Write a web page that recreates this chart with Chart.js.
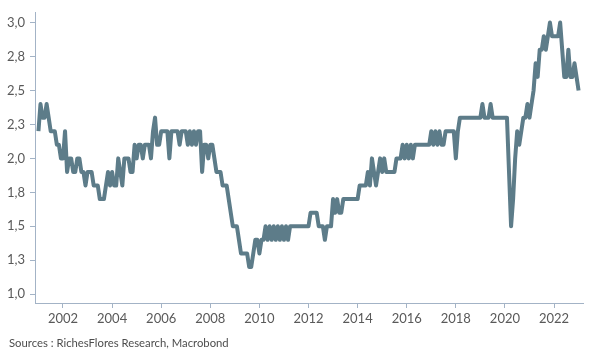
<!DOCTYPE html>
<html>
<head>
<meta charset="utf-8">
<script src="https://cdn.jsdelivr.net/npm/chart.js@4/dist/chart.umd.min.js"></script>
<style>
  html, body { margin: 0; padding: 0; background: #ffffff; }
  #wrap { position: relative; width: 600px; height: 360px; background: #ffffff; }
  #c { position: absolute; left: 0; top: 0; }
  #src { position: absolute; left: 9px; top: 336px; font-family: Lato, "Open Sans", sans-serif; font-size: 11.3px; color: #4d4d4d; white-space: nowrap; }
</style>
</head>
<body>
<div id="wrap">
  <canvas id="c" width="600" height="360"></canvas>
  <div id="src">Sources : RichesFlores Research, Macrobond</div>
</div>
<script>
// ---- data (monthly, January 2001 to January 2023) ----
const firstYear = 2001;
const values2001 = [2.2, 2.4, 2.3, 2.3, 2.4, 2.3, 2.2, 2.2, 2.2, 2.1, 2.1, 2.0];
const values2002 = [2.0, 2.2, 1.9, 2.0, 2.0, 1.9, 1.9, 2.0, 2.0, 1.9, 1.9, 1.8];
const values2003 = [1.9, 1.9, 1.9, 1.8, 1.8, 1.8, 1.7, 1.7, 1.7, 1.8, 1.9, 1.8];
const values2004 = [1.9, 1.8, 1.8, 2.0, 1.9, 1.8, 2.0, 2.0, 2.0, 1.9, 1.9, 2.1];
const values2005 = [2.0, 2.1, 2.1, 2.0, 2.1, 2.1, 2.1, 2.0, 2.2, 2.3, 2.1, 2.1];
const values2006 = [2.2, 2.2, 2.2, 2.2, 2.0, 2.2, 2.2, 2.2, 2.2, 2.1, 2.2, 2.2];
const values2007 = [2.2, 2.1, 2.2, 2.1, 2.2, 2.1, 2.2, 2.2, 1.9, 2.1, 2.1, 2.0];
const values2008 = [2.1, 2.1, 2.0, 1.9, 1.9, 1.9, 1.8, 1.8, 1.8, 1.7, 1.6, 1.5];
const values2009 = [1.5, 1.5, 1.4, 1.3, 1.3, 1.3, 1.3, 1.2, 1.2, 1.3, 1.4, 1.4];
const values2010 = [1.3, 1.4, 1.4, 1.5, 1.4, 1.5, 1.4, 1.5, 1.4, 1.5, 1.4, 1.5];
const values2011 = [1.4, 1.5, 1.4, 1.5, 1.5, 1.5, 1.5, 1.5, 1.5, 1.5, 1.5, 1.5];
const values2012 = [1.5, 1.6, 1.6, 1.6, 1.6, 1.5, 1.5, 1.5, 1.4, 1.5, 1.5, 1.5];
const values2013 = [1.7, 1.6, 1.7, 1.6, 1.6, 1.7, 1.7, 1.7, 1.7, 1.7, 1.7, 1.7];
const values2014 = [1.7, 1.8, 1.8, 1.8, 1.8, 1.9, 1.8, 2.0, 1.9, 1.8, 1.9, 2.0];
const values2015 = [1.9, 2.0, 1.9, 1.9, 1.9, 1.9, 1.9, 2.0, 2.0, 2.0, 2.1, 2.0];
const values2016 = [2.1, 2.0, 2.1, 2.0, 2.1, 2.1, 2.1, 2.1, 2.1, 2.1, 2.1, 2.1];
const values2017 = [2.2, 2.1, 2.2, 2.1, 2.2, 2.1, 2.1, 2.2, 2.2, 2.2, 2.2, 2.2];
const values2018 = [2.0, 2.2, 2.3, 2.3, 2.3, 2.3, 2.3, 2.3, 2.3, 2.3, 2.3, 2.3];
const values2019 = [2.3, 2.4, 2.3, 2.3, 2.3, 2.4, 2.3, 2.3, 2.3, 2.3, 2.3, 2.3];
const values2020 = [2.3, 2.3, 1.9, 1.5, 1.7, 2.0, 2.2, 2.1, 2.2, 2.3, 2.3, 2.4];
const values2021 = [2.3, 2.4, 2.5, 2.7, 2.6, 2.8, 2.8, 2.9, 2.8, 2.9, 3.0, 2.9];
const values2022 = [2.9, 2.9, 2.9, 3.0, 2.8, 2.6, 2.6, 2.8, 2.6, 2.6, 2.7, 2.6];
const values2023 = [2.5];

const xTicks = [2002, 2004, 2006, 2008, 2010, 2012, 2014, 2016, 2018, 2020, 2022];
const yTicks = [1.0, 1.25, 1.5, 1.75, 2.0, 2.25, 2.5, 2.75, 3.0];

const yearly = [values2001, values2002, values2003, values2004, values2005, values2006,
  values2007, values2008, values2009, values2010, values2011, values2012, values2013,
  values2014, values2015, values2016, values2017, values2018, values2019, values2020,
  values2021, values2022, values2023];

const points = [];
yearly.forEach((arr, yi) => {
  arr.forEach((v, m) => points.push({ x: firstYear + yi + m / 12, y: v }));
});

const axisColor = '#a3b3c6';
const tickColor = '#595959';
const fontFamily = 'Lato, "Open Sans", sans-serif';

new Chart(document.getElementById('c'), {
  type: 'line',
  data: {
    datasets: [{
      data: points,
      borderColor: '#5d7c89',
      borderWidth: 4,
      pointRadius: 0,
      tension: 0,
      borderJoinStyle: 'round',
      fill: false
    }]
  },
  options: {
    responsive: false,
    animation: false,
    layout: { padding: { top: 7, right: 17, left: 0, bottom: 0 } },
    plugins: { legend: { display: false }, tooltip: { enabled: false } },
    scales: {
      x: {
        type: 'linear',
        min: 2000.86,
        max: 2023.18,
        afterBuildTicks: s => { s.ticks = xTicks.map(v => ({ value: v })); },
        afterFit: s => { s.height = 57; },
        grid: { drawOnChartArea: false, color: axisColor, tickLength: 5 },
        border: { color: axisColor, width: 1 },
        ticks: {
          color: tickColor, font: { family: fontFamily, size: 13 },
          padding: 3, maxRotation: 0, autoSkip: false,
          callback: v => String(v)
        }
      },
      y: {
        type: 'linear',
        min: 0.935,
        max: 3.072,
        afterBuildTicks: s => { s.ticks = yTicks.map(v => ({ value: v })); },
        afterFit: s => { s.width = 35; },
        grid: { drawOnChartArea: false, color: axisColor, tickLength: 5 },
        border: { color: axisColor, width: 1 },
        ticks: {
          color: tickColor, font: { family: fontFamily, size: 13 },
          padding: 5,
          callback: v => Number(v).toFixed(1).replace('.', ',')
        }
      }
    }
  }
});
</script>
</body>
</html>
